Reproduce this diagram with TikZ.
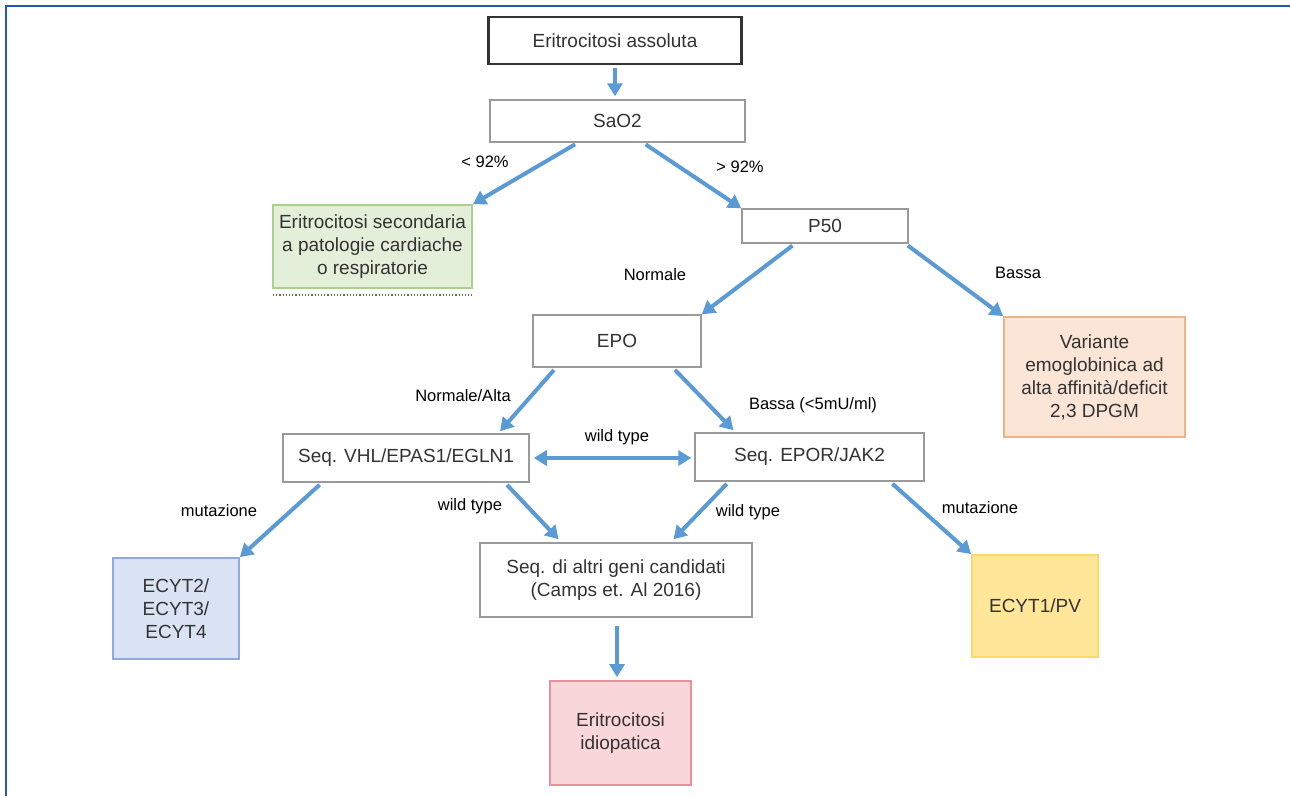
\documentclass[tikz,border=0pt]{standalone}
\usepackage{fontspec}
\setmainfont{Liberation Sans}
\usetikzlibrary{arrows.meta,calc}
\definecolor{arrowblue}{HTML}{5B9BD5}
\definecolor{frameblue}{HTML}{2458A8}
\definecolor{boxgray}{HTML}{9A9A9A}
\definecolor{greenfill}{HTML}{E4EFDA}
\definecolor{greendraw}{HTML}{A9D18E}
\definecolor{orangefill}{HTML}{FBE5D6}
\definecolor{orangedraw}{HTML}{F4B183}
\definecolor{bluefill}{HTML}{DAE3F3}
\definecolor{bluedraw}{HTML}{8FAADC}
\definecolor{yellowfill}{HTML}{FFE699}
\definecolor{yellowdraw}{HTML}{FFD966}
\definecolor{pinkfill}{HTML}{F9D6D9}
\definecolor{pinkdraw}{HTML}{E8909C}
\definecolor{textgray}{HTML}{333333}
\tikzset{
  box/.style={draw=boxgray, line width=1.5pt, fill=white, align=center, inner sep=0pt,
    text=textgray, font=\fontsize{19}{23}\selectfont},
  cbox/.style={box, line width=1.8pt},
  lab/.style={text=black, font=\fontsize{16.5}{20}\selectfont, inner sep=0pt},
  arr/.style={draw=arrowblue, line width=4pt, -{Triangle[length=13pt,width=15pt]}, shorten <=3pt},
  darr/.style={draw=arrowblue, line width=4pt, {Triangle[length=13pt,width=15pt]}-{Triangle[length=13pt,width=15pt]}},
}
\begin{document}
\begin{tikzpicture}[x=1pt,y=-1pt]
\useasboundingbox (0,0) rectangle (1290,796);
\fill[white] (0,0) rectangle (1290,796);
\draw[frameblue, line width=2.5pt] (6,796) -- (6,6) -- (1290,6);

% nodes
\node[box, draw=black!80, line width=2.5pt, minimum width=253pt, minimum height=47pt] (ea) at (615,40.5) {Eritrocitosi assoluta};
\node[box, minimum width=255pt, minimum height=42pt] (sao) at (617.5,121) {SaO2};
\node[cbox, fill=greenfill, draw=greendraw, minimum width=199pt, minimum height=83pt] (sec) at (372.5,246.5) {Eritrocitosi secondaria\\a patologie cardiache\\o respiratorie};
\coordinate (dl) at (273,295);
\coordinate (dr) at (472,295);
\node[box, minimum width=166pt, minimum height=34pt] (p50) at (825,226) {P50};
\node[box, minimum width=168pt, minimum height=52pt] (epo) at (617,341) {EPO};
\node[cbox, fill=orangefill, draw=orangedraw, minimum width=181pt, minimum height=120pt] (var) at (1094.5,377) {Variante\\emoglobinica ad\\alta affinità/deficit\\2,3 DPGM};
\node[box, minimum width=246pt, minimum height=48pt] (vhl) at (406,458) {Seq. VHL/EPAS1/EGLN1};
\node[box, minimum width=229pt, minimum height=48pt] (epor) at (809.5,457) {Seq. EPOR/JAK2};
\node[cbox, fill=bluefill, draw=bluedraw, minimum width=126pt, minimum height=101pt] (e2) at (176,608.5) {ECYT2/\\ECYT3/\\ECYT4};
\node[box, minimum width=272pt, minimum height=74pt] (alt) at (616,580) {Seq. di altri geni candidati\\(Camps et. Al 2016)};
\node[cbox, fill=yellowfill, draw=yellowdraw, minimum width=126pt, minimum height=102pt] (e1) at (1035,606) {ECYT1/PV};
\node[cbox, fill=pinkfill, draw=pinkdraw, minimum width=141pt, minimum height=104pt] (idio) at (620.5,733) {Eritrocitosi\\idiopatica};

\draw[black!60, line width=1.2pt, dotted] (dl) -- (dr);

% connectors
\draw[arr] (ea.south) -- ($(ea.south |- sao.north)+(0,-3)$);
\draw[arr] ($(sao.south west)!0.345!(sao.south east)$) -- (sec.north east);
\draw[arr] ($(sao.south west)!0.60!(sao.south east)$) -- (p50.north west);
\draw[arr] ($(p50.south west)!0.32!(p50.south east)$) -- (epo.north east);
\draw[arr] ($(p50.south west)!0.98!(p50.south east)$) -- (var.north west);
\draw[arr] ($(epo.south west)!0.14!(epo.south east)$) -- ($(vhl.north west)!0.88!(vhl.north east)+(0,-2)$);
\draw[arr] ($(epo.south west)!0.83!(epo.south east)$) -- ($(epor.north west)!0.17!(epor.north east)+(0,-2)$);
\draw[darr] ($(vhl.east)+(4,0)$) -- ($(vhl.east -| epor.west)+(-3,0)$);
\draw[arr] ($(vhl.south west)!0.16!(vhl.south east)$) -- (e2.north east);
\draw[arr] ($(vhl.south west)!0.90!(vhl.south east)$) -- ($(alt.north west)!0.29!(alt.north east)+(0,-3)$);
\draw[arr] ($(epor.south west)!0.15!(epor.south east)$) -- ($(alt.north west)!0.71!(alt.north east)+(0,-3)$);
\draw[arr] ($(epor.south west)!0.85!(epor.south east)$) -- (e1.north west);
\draw[arr] ($(alt.south)+(1,5)$) -- ($(alt.south |- idio.north)+(1,-3)$);

% labels
\node[lab] (l1) at (485,162) {< 92\%};
\node[lab] (l2) at (740,167) {> 92\%};
\node[lab] (l3) at (655,275) {Normale};
\node[lab] (l4) at (1018,273) {Bassa};
\node[lab] (l5) at (463,396) {Normale/Alta};
\node[lab] (l6) at (813,405) {Bassa (<5mU/ml)};
\node[lab] (l7) at (617,437) {wild type};
\node[lab] (l8) at (219,511) {mutazione};
\node[lab] (l9) at (470,506) {wild type};
\node[lab] (l10) at (748,512) {wild type};
\node[lab] (l11) at (980,508) {mutazione};
\end{tikzpicture}
\end{document}
